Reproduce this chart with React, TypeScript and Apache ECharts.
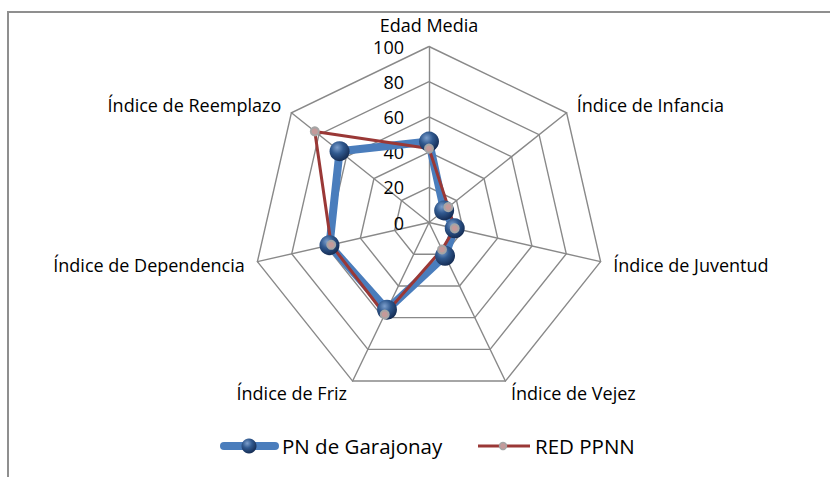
import React, { useEffect, useRef } from "react";
import * as echarts from "echarts";

const indicatorNames = [
  "Edad Media",
  "Índice de Infancia",
  "Índice de Juventud",
  "Índice de Vejez",
  "Índice de Friz",
  "Índice de Dependencia",
  "Índice de Reemplazo",
];
const garajonay = [46, 11, 15, 21, 55, 58, 65];
const redPPNN = [42, 14, 15, 17, 58, 57, 83];
const axisMin = 0;
const axisMax = 100;
const axisStep = 20;
const seriesNames = ["PN de Garajonay", "RED PPNN"];

const FONT = "'Open Sans', sans-serif";
const GRID = "#898989";
const BLUE = "#4a7dbc";
const RED = "#9a3836";

export default function App() {
  const ref = useRef<HTMLDivElement>(null);
  useEffect(() => {
    if (!ref.current) return;
    const chart = echarts.init(ref.current, null, { renderer: "svg" });
    // ECharts radar places indicators counter-clockwise; reorder so they run clockwise
    const order = [0, ...indicatorNames.map((_, i) => i).slice(1).reverse()];
    const makeBall = () =>
      new echarts.graphic.RadialGradient(0.38, 0.32, 0.7, [
        { offset: 0, color: "#7d9fcc" },
        { offset: 0.45, color: "#30598f" },
        { offset: 1, color: "#142b52" },
      ]);
    const cx = 429;
    const cy = 222.5;
    const R = 176;
    chart.setOption({
      animation: false,
      backgroundColor: "#ffffff",
      radar: {
        center: [cx, cy],
        radius: R,
        shape: "polygon",
        splitNumber: (axisMax - axisMin) / axisStep,
        startAngle: 90,
        indicator: order.map((i) => ({ name: indicatorNames[i], min: axisMin, max: axisMax })),
        axisName: { color: "#000", fontSize: 18, fontFamily: FONT, lineHeight: 18 },
        nameGap: 13,
        axisLine: { lineStyle: { color: GRID, width: 1.4 } },
        splitLine: { lineStyle: { color: GRID, width: 1.4 } },
        splitArea: { show: false },
        axisTick: { show: false },
        axisLabel: { show: false },
      },
      polar: { center: [cx, cy], radius: R },
      angleAxis: { show: false, startAngle: 90, min: 0, max: 360 },
      radiusAxis: {
        min: axisMin,
        max: axisMax,
        interval: axisStep,
        axisLine: { show: false },
        axisTick: { show: false },
        splitLine: { show: false },
        splitArea: { show: false },
        axisLabel: {
          show: true,
          color: "#000",
          fontSize: 18,
          fontFamily: FONT,
          lineHeight: 16,
          margin: 25,
        },
      },
      series: [
        {
          type: "radar",
          z: 2,
          data: [
            {
              name: seriesNames[0],
              value: order.map((i) => garajonay[i]),
              symbol: "circle",
              symbolSize: 20,
              lineStyle: { color: BLUE, width: 8 },
              itemStyle: { color: makeBall() },
            },
            {
              name: seriesNames[1],
              value: order.map((i) => redPPNN[i]),
              symbol: "circle",
              symbolSize: 8,
              lineStyle: { color: RED, width: 3 },
              itemStyle: { color: "#c49a9a", borderColor: "#a5a5a5", borderWidth: 2 },
            },
          ],
        },
      ],
      graphic: [
        {
          type: "rect",
          shape: { x: 8, y: 12, width: 1000, height: 1000 },
          style: { fill: "none", stroke: "#8f8f8f", lineWidth: 2 },
          silent: true,
        },
        {
          type: "line",
          shape: { x1: 224, y1: 446, x2: 275, y2: 446 },
          style: { stroke: BLUE, lineWidth: 8, lineCap: "round" },
        },
        {
          type: "circle",
          shape: { cx: 249, cy: 446, r: 7.5 },
          style: { fill: makeBall() },
        },
        {
          type: "text",
          x: 282,
          y: 446,
          style: {
            text: seriesNames[0],
            fill: "#000",
            font: `20.5px ${FONT}`,
            verticalAlign: "middle",
            align: "left",
          },
        },
        {
          type: "line",
          shape: { x1: 478, y1: 446, x2: 530, y2: 446 },
          style: { stroke: RED, lineWidth: 3 },
        },
        {
          type: "circle",
          shape: { cx: 503, cy: 446, r: 3.5 },
          style: { fill: "#c49a9a", stroke: "#a5a5a5", lineWidth: 1.5 },
        },
        {
          type: "text",
          x: 535,
          y: 446,
          style: {
            text: seriesNames[1],
            fill: "#000",
            font: `20.5px ${FONT}`,
            verticalAlign: "middle",
            align: "left",
          },
        },
      ],
    });
    return () => chart.dispose();
  }, []);
  return (
    <div
      ref={ref}
      style={{ position: "absolute", left: 0, top: 0, width: 830, height: 477 }}
    />
  );
}
